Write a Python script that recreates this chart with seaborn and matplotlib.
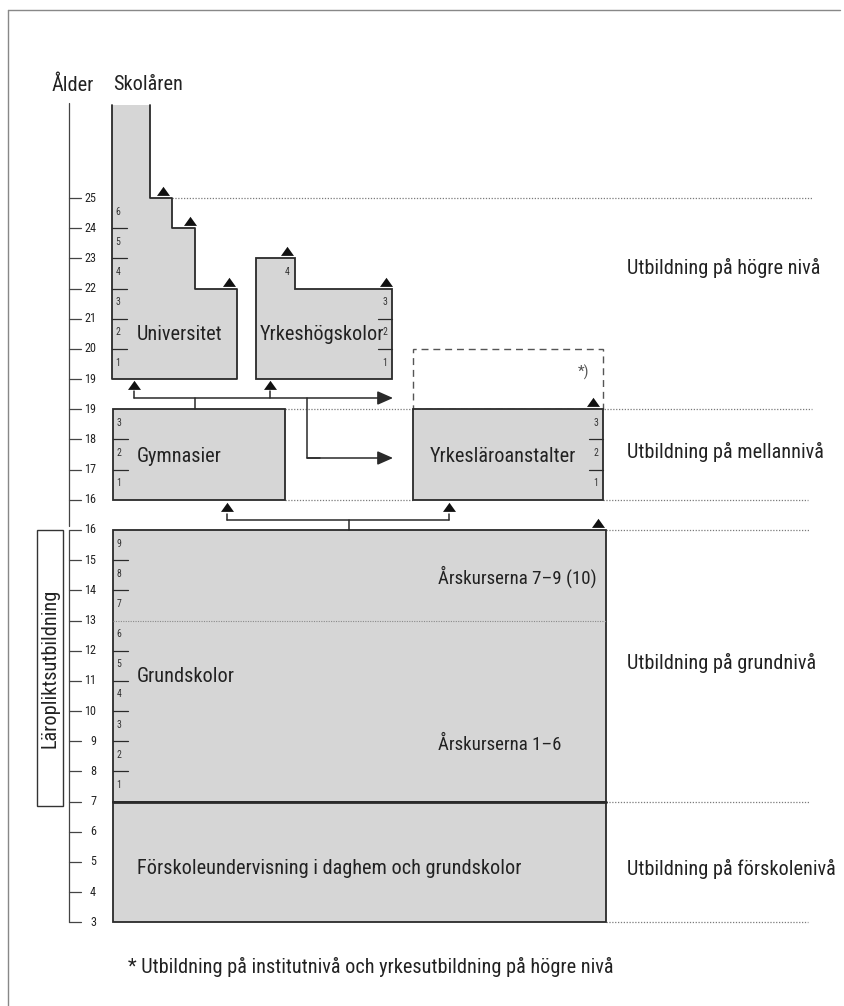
import numpy as np
import pandas as pd
import matplotlib
matplotlib.use("Agg")
import matplotlib.pyplot as plt
import seaborn as sns
from matplotlib import font_manager as fm
from matplotlib.patches import Polygon, Rectangle

# ------------------------------------------------------------------ data
AGE_TICKS = [3, 4, 5, 6, 7, 8, 9, 10, 11, 12, 13, 14, 15, 16,
             16, 17, 18, 19,
             19, 20, 21, 22, 23, 24, 25]
AGE_TICK_LEVELS = [0] * 14 + [1] * 4 + [2] * 7   # 0 basic, 1 secondary, 2 higher

PRESCHOOL_AGES = (3, 7)
BASIC_AGES = (7, 16)
BASIC_YEARS = [1, 2, 3, 4, 5, 6, 7, 8, 9]
BASIC_SPLIT_AGE = 13
SECONDARY_AGES = (16, 19)
GYM_YEARS = [1, 2, 3]
VOC_YEARS = [1, 2, 3]
UNI_START = 19
UNI_YEARS = [1, 2, 3, 4, 5, 6]
UNI_STEP_AGES = [22, 24, 25]
YHS_START = 19
YHS_YEARS = [1, 2, 3, 4]
YHS_STEP_AGES = [22, 23]
INSTITUTE_TOP_AGE = 20

LEVEL_LABELS = ["Utbildning på högre nivå", "Utbildning på mellannivå",
                "Utbildning på grundnivå", "Utbildning på förskolenivå"]
BOX_LABELS = ["Universitet", "Yrkeshögskolor", "Gymnasier", "Yrkesläroanstalter",
              "Årskurserna 7–9 (10)", "Grundskolor", "Årskurserna 1–6",
              "Förskoleundervisning i daghem och grundskolor"]
HEAD_LABELS = ["Ålder", "Skolåren"]
SIDE_LABEL = "Läropliktsutbildning"
FOOTNOTE = "* Utbildning på institutnivå och yrkesutbildning på högre nivå"
INST_MARK = "*)"


def slot(age, level):
    """vertical position of an age on the diagram's broken age axis"""
    return age - 3 + level


# ---------------------------------------------------------------- layout
W, H = 844, 1006
PX0, PXS = 922.2, 30.17          # pixel row of slot 0 and pixels per slot


def px2s(py):
    return (PX0 - py) / PXS


X = dict(axis=69, tick_end=81, tick_lab=96,
         uni0=112, uni_steps=[237, 195, 172, 150],
         yhs0=256, yhs1=392, yhs_step=295,
         gym0=113, gym1=285, voc0=413, voc1=603,
         bas0=113, bas1=606, ref_end=812)

sns.set_theme(style="white")
avail = {f.name for f in fm.fontManager.ttflist}
FONT = "DejaVu Sans"
for cand in ["Liberation Sans Narrow", "DejaVu Sans Condensed", "Roboto Condensed",
             "Open Sans Condensed", "Liberation Sans"]:
    if cand in avail:
        FONT = cand
        break
FAM = [FONT, "DejaVu Sans"]
plt.rcParams["font.family"] = FAM

fig = plt.figure(figsize=(W / 100, H / 100), dpi=100)
fig.patch.set_facecolor("white")
renderer = fig.canvas.get_renderer()


def fit_size(s, target_px):
    t = fig.text(0, 0, s, fontsize=10)
    w = t.get_window_extent(renderer).width
    t.remove()
    return 10 * target_px / w


FS = fit_size("Utbildning på mellannivå", 196)
FS_FOOT = fit_size(FOOTNOTE, 482)
FS_ARS = min(FS, fit_size(BOX_LABELS[4], 158))
FS_NUM = FS * 0.48
FS_AGE = FS * 0.6

ax = fig.add_axes([0, 0, 1, 1])
ax.set_xlim(0, W)
ax.set_ylim(px2s(H), px2s(0))
ax.axis("off")

FILL = "#d6d6d6"
EDGE = "#2a2a2a"
TXT = "#222222"
DOT = "#7a7a7a"
LW = 1.3

# -------------------------------------------------------------- frame
ax.plot([8, 8], [px2s(10), px2s(H)], color="#888888", lw=1.0)
ax.plot([8, 840], [px2s(10), px2s(10)], color="#888888", lw=1.0)

# --------------------------------------------------------- age axis
ytop_axis = px2s(103)
ax.plot([X["axis"]] * 2, [ytop_axis, slot(16, 0) + 0.12], color="#444", lw=0.9)
ax.plot([X["axis"]] * 2, [slot(16, 0), slot(3, 0)], color="#444", lw=0.9)
for age, lev in zip(AGE_TICKS, AGE_TICK_LEVELS):
    s = slot(age, lev)
    ax.plot([X["axis"], X["tick_end"]], [s, s], color="#444", lw=0.9)
    ax.text(X["tick_lab"], s, str(age), ha="right", va="center",
            fontsize=FS_AGE, color=TXT)

ax.text(52, px2s(85), HEAD_LABELS[0], fontsize=FS, color=TXT, va="center", ha="left")
ax.text(113, px2s(85), HEAD_LABELS[1], fontsize=FS, color=TXT, va="center", ha="left")

# ----------------------------------------------------- reference dotted lines
dot_kw = dict(color=DOT, lw=0.9, linestyle=(0, (1, 1.3)), zorder=1)
ax.plot([X["uni_steps"][2], X["ref_end"]], [slot(25, 2)] * 2, **dot_kw)
ax.plot([X["gym1"], X["ref_end"]], [slot(SECONDARY_AGES[1], 1)] * 2, **dot_kw)
ax.plot([X["gym1"], X["voc0"]], [slot(SECONDARY_AGES[0], 1)] * 2, **dot_kw)
ax.plot([X["voc1"], X["ref_end"] - 4], [slot(SECONDARY_AGES[0], 1)] * 2, **dot_kw)
ax.plot([X["bas1"], X["ref_end"] - 2], [slot(BASIC_AGES[1], 0)] * 2, **dot_kw)
ax.plot([X["bas1"], X["ref_end"] - 2], [slot(BASIC_AGES[0], 0)] * 2, **dot_kw)
ax.plot([X["bas1"], X["ref_end"] - 4], [slot(PRESCHOOL_AGES[0], 0)] * 2, **dot_kw)


def box(x0, x1, s0, s1, **kw):
    r = Rectangle((x0, s0), x1 - x0, s1 - s0, facecolor=FILL, edgecolor=EDGE,
                  lw=LW, zorder=2, **kw)
    ax.add_patch(r)


def year_marks(x0, x1, s_start, years, side, skip=()):
    for i, y in enumerate(years):
        s = s_start + i
        xl = x0 + 6 if side == "left" else x1 - 7
        ax.text(xl, s + 0.55, str(y), ha="center", va="center",
                fontsize=FS_NUM, color="#333", zorder=4)
        if i > 0 and (s_start + i) not in skip:
            if side == "left":
                ax.plot([x0, x0 + 15], [s, s], color=EDGE, lw=0.9, zorder=3)
            else:
                ax.plot([x1 - 14, x1], [s, s], color=EDGE, lw=0.9, zorder=3)


# ------------------------------------------------------------- Universitet
s_uni0 = slot(UNI_START, 2)
s_col_top = px2s(105)
step_s = [slot(a, 2) for a in UNI_STEP_AGES]
xs = X["uni_steps"]
verts = [(X["uni0"], s_col_top), (X["uni0"], s_uni0), (xs[0], s_uni0),
         (xs[0], step_s[0]), (xs[1], step_s[0]), (xs[1], step_s[1]),
         (xs[2], step_s[1]), (xs[2], step_s[2]), (xs[3], step_s[2]),
         (xs[3], s_col_top)]
ax.add_patch(Polygon(verts, closed=True, facecolor=FILL, edgecolor="none", zorder=2))
vx, vy = zip(*verts)
ax.plot(vx, vy, color=EDGE, lw=LW, zorder=3)
year_marks(X["uni0"], xs[0], s_uni0, UNI_YEARS, "left")
ax.text(137, px2s(335), BOX_LABELS[0], fontsize=FS, color=TXT, va="center", zorder=4)

# ---------------------------------------------------------- Yrkeshögskolor
s_y0 = slot(YHS_START, 2)
ys1, ys2 = [slot(a, 2) for a in YHS_STEP_AGES]
v2 = [(X["yhs0"], s_y0), (X["yhs1"], s_y0), (X["yhs1"], ys1), (X["yhs_step"], ys1),
      (X["yhs_step"], ys2), (X["yhs0"], ys2)]
ax.add_patch(Polygon(v2, closed=True, facecolor=FILL, edgecolor=EDGE, lw=LW, zorder=2))
year_marks(X["yhs0"], X["yhs1"], s_y0, YHS_YEARS[:3], "right")
ax.text(X["yhs_step"] - 8, ys1 + 0.55, str(YHS_YEARS[3]), ha="center", va="center",
        fontsize=FS_NUM, color="#333", zorder=4)
ax.text(260, px2s(334), BOX_LABELS[1], fontsize=FS, color=TXT, va="center", zorder=4)

# ------------------------------------------------- institute (dashed) box
s_sec_top = slot(SECONDARY_AGES[1], 1)
ax.add_patch(Rectangle((X["voc0"], s_sec_top), X["voc1"] - X["voc0"],
                       slot(INSTITUTE_TOP_AGE, 2) - s_sec_top, facecolor="none",
                       edgecolor="#555", lw=1.0, linestyle=(0, (5, 3.5)), zorder=1))
ax.text(584, px2s(372), INST_MARK, fontsize=FS * 0.75, color="#555",
        ha="center", va="center")

# ------------------------------------------------------ secondary level
s_sec0 = slot(SECONDARY_AGES[0], 1)
box(X["gym0"], X["gym1"], s_sec0, s_sec_top)
year_marks(X["gym0"], X["gym1"], s_sec0, GYM_YEARS, "left")
ax.text(137, px2s(457), BOX_LABELS[2], fontsize=FS, color=TXT, va="center", zorder=4)

box(X["voc0"], X["voc1"], s_sec0, s_sec_top)
year_marks(X["voc0"], X["voc1"], s_sec0, VOC_YEARS, "right")
ax.text(430, px2s(457), BOX_LABELS[3], fontsize=FS, color=TXT, va="center", zorder=4)

# ---------------------------------------------------------- basic level
s_b0 = slot(BASIC_AGES[0], 0)
s_b1 = slot(BASIC_AGES[1], 0)
s_split = slot(BASIC_SPLIT_AGE, 0)
box(X["bas0"], X["bas1"], s_b0, s_b1)
ax.plot([X["bas0"], X["bas1"]], [s_split] * 2, color="#8a8a8a", lw=0.8,
        linestyle=(0, (1, 1.2)), zorder=3)
year_marks(X["bas0"], X["bas1"], s_b0, BASIC_YEARS, "left", skip=(s_split,))
ax.text(438, px2s(577), BOX_LABELS[4], fontsize=FS_ARS, color=TXT, va="center", zorder=4)
ax.text(137, px2s(676), BOX_LABELS[5], fontsize=FS, color=TXT, va="center", zorder=4)
ax.text(438, px2s(745), BOX_LABELS[6], fontsize=FS_ARS, color=TXT, va="center", zorder=4)

# ------------------------------------------------------------ preschool
s_p0 = slot(PRESCHOOL_AGES[0], 0)
box(X["bas0"], X["bas1"], s_p0, s_b0)
ax.plot([X["bas0"], X["bas1"]], [s_b0] * 2, color=EDGE, lw=2.0, zorder=3)
ax.text(137, px2s(869), BOX_LABELS[7], fontsize=FS, color=TXT, va="center", zorder=4)

# ----------------------------------------------------- compulsory bracket
ax.add_patch(Rectangle((37, s_b0 - 0.15), 26, s_b1 - s_b0 + 0.15, facecolor="white",
                       edgecolor="#333", lw=1.0, zorder=2))
ax.text(50, (s_b0 + s_b1) / 2 - 0.1, SIDE_LABEL, rotation=90, fontsize=FS,
        color=TXT, ha="center", va="center", zorder=4)

# --------------------------------------------------------- level labels
for lab, py in zip(LEVEL_LABELS, [268, 452, 663, 869]):
    ax.text(627, px2s(py), lab, fontsize=FS, color=TXT, va="center", ha="left")

ax.text(128, px2s(967), FOOTNOTE, fontsize=FS_FOOT, color=TXT, va="center", ha="left")

# --------------------------------------------------------- connectors
CON = "#2a2a2a"
s_up = s_sec_top + 0.375
s_lo = s_b1 + 0.33
arrow_kw = dict(arrowstyle="-|>,head_length=0.95,head_width=0.42", color=CON,
                lw=1.1, shrinkA=0, shrinkB=0, mutation_scale=10)
ax.plot([195, 195], [s_sec_top, s_up], color=CON, lw=1.1, zorder=3)
ax.annotate("", xy=(393, s_up), xytext=(134, s_up), arrowprops=arrow_kw)
s_mid_arrow = px2s(458)
ax.plot([307, 307, 320], [s_up, s_mid_arrow, s_mid_arrow], color=CON, lw=1.1)
ax.annotate("", xy=(393, s_mid_arrow), xytext=(307, s_mid_arrow), arrowprops=arrow_kw)
for xx in (134, 270):
    ax.plot([xx, xx], [s_up, s_up + 0.22], color=CON, lw=1.1)
ax.plot([227, 449], [s_lo, s_lo], color=CON, lw=1.1)
ax.plot([349, 349], [s_b1, s_lo], color=CON, lw=1.1)
for xx in (227, 449):
    ax.plot([xx, xx], [s_lo, s_lo + 0.2], color=CON, lw=1.1)

# ----------------------------------------------------- exit triangles
tri = pd.DataFrame({
    "x": [163, 190, 229, 287, 386, 593, 598, 134, 270, 227, 449],
    "s": [step_s[2], step_s[1], step_s[0], ys2, ys1, s_sec_top, s_b1,
          s_up + 0.2, s_up + 0.2, s_lo + 0.2, s_lo + 0.2],
})
tri_marker = [(-0.5, 0.2), (0.5, 0.2), (0.0, 0.9), (-0.5, 0.2)]
sns.scatterplot(data=tri, x="x", y="s", marker=tri_marker, s=284, color="#111111",
                linewidth=0, legend=False, ax=ax, zorder=5)
ax.set_xlabel("")
ax.set_ylabel("")
ax.axis("off")

fig.savefig("out.png", dpi=100, facecolor="white")
